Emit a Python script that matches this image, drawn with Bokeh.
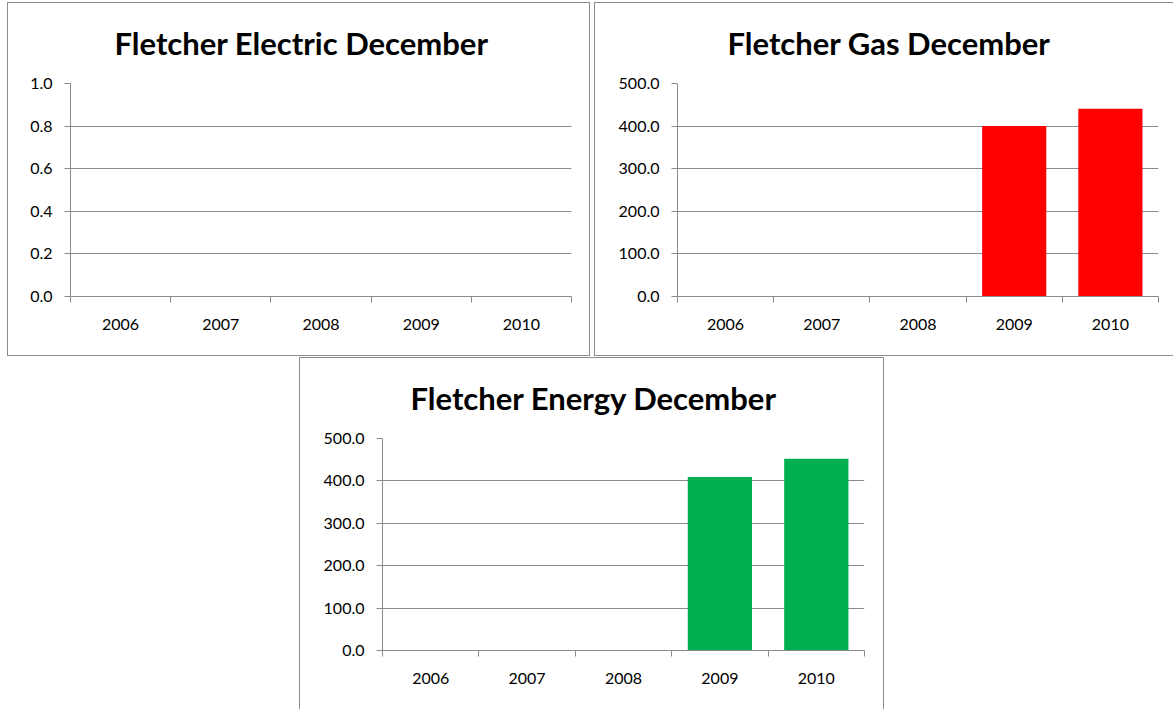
from bokeh.plotting import figure
from bokeh.models import FixedTicker, Range1d, Spacer, NumeralTickFormatter
from bokeh.layouts import row, column
from bokeh.embed import file_html
from bokeh.resources import INLINE

# ---- data ----
years = ["2006", "2007", "2008", "2009", "2010"]
electric = [0, 0, 0, 0, 0]
gas = [0, 0, 0, 400, 441]
energy = [0, 0, 0, 409, 452]
electric_ticks = [0.0, 0.2, 0.4, 0.6, 0.8, 1.0]
usage_ticks = [0, 100, 200, 300, 400, 500]

GRAY = "#8a8a8a"
BORDER = "#8c8c8c"
FONT = "Lato"


def make(title, vals, ymax, yticks, color, w, h, ml, mr, mt, mb, css, toff):
    n = len(years)
    p = figure(width=w, height=h, output_backend="svg", toolbar_location=None,
               x_range=Range1d(0, n), y_range=Range1d(0, ymax),
               min_border_left=ml, min_border_right=mr,
               min_border_top=mt, min_border_bottom=mb, title=title)
    centers = [i + 0.5 for i in range(n)]
    p.vbar(x=centers, top=vals, width=2 / 3, fill_color=color, line_color=None)

    p.title.align = "left"
    p.title.offset = toff
    p.title.vertical_align = "top"
    p.title.text_font = FONT
    p.title.text_font_size = "31px"
    p.title.text_font_style = "bold"
    p.title.text_color = "black"
    p.title.standoff = 40

    p.outline_line_color = None
    p.xgrid.visible = False
    p.ygrid.grid_line_color = GRAY
    p.ygrid.grid_line_width = 1

    xa = p.xaxis[0]
    xa.ticker = FixedTicker(ticks=centers, minor_ticks=list(range(n + 1)))
    xa.major_label_overrides = {c: y for c, y in zip(centers, years)}
    xa.major_tick_line_color = None
    xa.minor_tick_line_color = GRAY
    xa.minor_tick_out = 6
    xa.minor_tick_in = 0
    xa.axis_line_color = GRAY
    xa.major_label_standoff = 16
    xa.major_label_text_font = FONT
    xa.major_label_text_font_size = "16px"
    xa.major_label_text_color = "black"

    ya = p.yaxis[0]
    ya.ticker = FixedTicker(ticks=yticks)
    ya.formatter = NumeralTickFormatter(format="0.0")
    ya.major_tick_line_color = GRAY
    ya.major_tick_out = 6
    ya.major_tick_in = 0
    ya.minor_tick_line_color = None
    ya.axis_line_color = GRAY
    ya.major_label_standoff = 12
    ya.major_label_text_font = FONT
    ya.major_label_text_font_size = "16px"
    ya.major_label_text_color = "black"

    p.styles = css
    return p


b = f"1px solid {BORDER}"
p1 = make("Fletcher Electric December", electric, 1.0, electric_ticks, "#4f81bd",
          583, 354, 62, 20, 80, 61, {"border": b}, 44)
p2 = make("Fletcher Gas December", gas, 500, usage_ticks, "#ff0000",
          579, 354, 82, 16, 80, 61, {"border": b, "border-right": "none"}, 50)
p3 = make("Fletcher Energy December", energy, 500, usage_ticks, "#00b050",
          585, 352, 82, 21, 80, 60, {"border": b, "border-bottom": "none"}, 28)

layout = column(Spacer(height=2),
                row(Spacer(width=7), p1, Spacer(width=4), p2),
                Spacer(height=1),
                row(Spacer(width=299), p3))

open("out.html", "w").write(file_html(layout, INLINE))
